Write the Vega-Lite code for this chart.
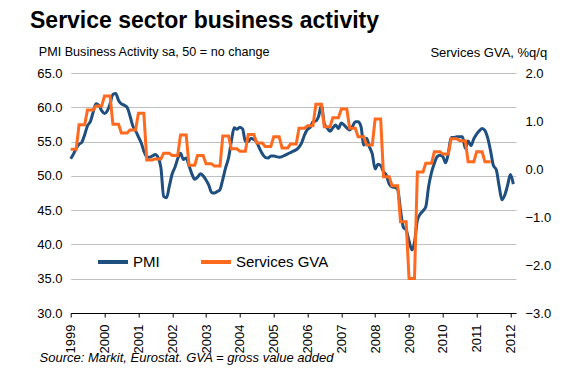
{
  "$schema": "https://vega.github.io/schema/vega-lite/v6.json",
  "width": 445.3,
  "height": 240,
  "autosize": {"type": "none"},
  "padding": {"left": 70.7, "top": 73, "right": 48, "bottom": 61},
  "title": {"text": "Service sector business activity", "anchor": "start", "frame": "group", "font": "Liberation Sans", "fontSize": 23, "fontWeight": "bold", "color": "#000000", "dx": -40.7, "dy": -13, "offset": 0},
  "data": {"values": [
    {"date":"1999-01-01","pmi":52.5,"gva":0.41},{"date":"1999-02-01","pmi":53.2,"gva":0.41},{"date":"1999-03-01","pmi":54.0,"gva":0.41},
    {"date":"1999-04-01","pmi":54.6,"gva":0.92},{"date":"1999-05-01","pmi":54.9,"gva":0.92},{"date":"1999-06-01","pmi":56.0,"gva":0.92},
    {"date":"1999-07-01","pmi":57.3,"gva":1.23},{"date":"1999-08-01","pmi":57.9,"gva":1.23},{"date":"1999-09-01","pmi":59.3,"gva":1.23},
    {"date":"1999-10-01","pmi":60.5,"gva":1.31},{"date":"1999-11-01","pmi":60.3,"gva":1.31},{"date":"1999-12-01","pmi":59.5,"gva":1.31},
    {"date":"2000-01-01","pmi":59.1,"gva":1.52},{"date":"2000-02-01","pmi":59.5,"gva":1.52},{"date":"2000-03-01","pmi":60.5,"gva":1.52},
    {"date":"2000-04-01","pmi":61.9,"gva":0.93},{"date":"2000-05-01","pmi":62.0,"gva":0.93},{"date":"2000-06-01","pmi":61.0,"gva":0.93},
    {"date":"2000-07-01","pmi":60.5,"gva":0.75},{"date":"2000-08-01","pmi":60.3,"gva":0.75},{"date":"2000-09-01","pmi":60.0,"gva":0.75},
    {"date":"2000-10-01","pmi":58.8,"gva":0.81},{"date":"2000-11-01","pmi":57.3,"gva":0.81},{"date":"2000-12-01","pmi":56.6,"gva":0.81},
    {"date":"2001-01-01","pmi":55.7,"gva":1.16},{"date":"2001-02-01","pmi":54.8,"gva":1.16},{"date":"2001-03-01","pmi":53.6,"gva":1.16},
    {"date":"2001-04-01","pmi":52.8,"gva":0.19},{"date":"2001-05-01","pmi":52.7,"gva":0.19},{"date":"2001-06-01","pmi":52.9,"gva":0.19},
    {"date":"2001-07-01","pmi":53.1,"gva":0.21},{"date":"2001-08-01","pmi":52.7,"gva":0.21},{"date":"2001-09-01","pmi":51.2,"gva":0.21},
    {"date":"2001-10-01","pmi":47.0,"gva":0.33},{"date":"2001-11-01","pmi":46.8,"gva":0.33},{"date":"2001-12-01","pmi":48.5,"gva":0.33},
    {"date":"2002-01-01","pmi":50.3,"gva":0.28},{"date":"2002-02-01","pmi":51.3,"gva":0.28},{"date":"2002-03-01","pmi":52.5,"gva":0.28},
    {"date":"2002-04-01","pmi":53.3,"gva":0.71},{"date":"2002-05-01","pmi":52.4,"gva":0.71},{"date":"2002-06-01","pmi":52.6,"gva":0.71},
    {"date":"2002-07-01","pmi":51.5,"gva":0.08},{"date":"2002-08-01","pmi":50.3,"gva":0.08},{"date":"2002-09-01","pmi":49.5,"gva":0.08},
    {"date":"2002-10-01","pmi":49.8,"gva":0.28},{"date":"2002-11-01","pmi":50.3,"gva":0.28},{"date":"2002-12-01","pmi":50.0,"gva":0.28},
    {"date":"2003-01-01","pmi":49.4,"gva":0.11},{"date":"2003-02-01","pmi":48.6,"gva":0.11},{"date":"2003-03-01","pmi":47.6,"gva":0.11},
    {"date":"2003-04-01","pmi":47.5,"gva":0.06},{"date":"2003-05-01","pmi":47.7,"gva":0.06},{"date":"2003-06-01","pmi":48.0,"gva":0.06},
    {"date":"2003-07-01","pmi":49.5,"gva":0.69},{"date":"2003-08-01","pmi":51.2,"gva":0.69},{"date":"2003-09-01","pmi":52.6,"gva":0.69},
    {"date":"2003-10-01","pmi":55.0,"gva":0.42},{"date":"2003-11-01","pmi":57.0,"gva":0.42},{"date":"2003-12-01","pmi":56.8,"gva":0.42},
    {"date":"2004-01-01","pmi":57.1,"gva":0.37},{"date":"2004-02-01","pmi":56.8,"gva":0.37},{"date":"2004-03-01","pmi":55.0,"gva":0.37},
    {"date":"2004-04-01","pmi":55.0,"gva":0.72},{"date":"2004-05-01","pmi":55.5,"gva":0.72},{"date":"2004-06-01","pmi":55.3,"gva":0.72},
    {"date":"2004-07-01","pmi":54.9,"gva":0.54},{"date":"2004-08-01","pmi":54.0,"gva":0.54},{"date":"2004-09-01","pmi":53.2,"gva":0.54},
    {"date":"2004-10-01","pmi":52.7,"gva":0.47},{"date":"2004-11-01","pmi":52.6,"gva":0.47},{"date":"2004-12-01","pmi":52.9,"gva":0.47},
    {"date":"2005-01-01","pmi":52.9,"gva":0.67},{"date":"2005-02-01","pmi":52.8,"gva":0.67},{"date":"2005-03-01","pmi":52.7,"gva":0.67},
    {"date":"2005-04-01","pmi":52.8,"gva":0.44},{"date":"2005-05-01","pmi":53.0,"gva":0.44},{"date":"2005-06-01","pmi":53.2,"gva":0.44},
    {"date":"2005-07-01","pmi":53.4,"gva":0.52},{"date":"2005-08-01","pmi":53.6,"gva":0.52},{"date":"2005-09-01","pmi":53.8,"gva":0.52},
    {"date":"2005-10-01","pmi":54.2,"gva":0.85},{"date":"2005-11-01","pmi":54.9,"gva":0.85},{"date":"2005-12-01","pmi":56.0,"gva":0.85},
    {"date":"2006-01-01","pmi":56.8,"gva":0.90},{"date":"2006-02-01","pmi":57.1,"gva":0.90},{"date":"2006-03-01","pmi":57.9,"gva":0.90},
    {"date":"2006-04-01","pmi":58.0,"gva":1.35},{"date":"2006-05-01","pmi":58.7,"gva":1.35},{"date":"2006-06-01","pmi":60.3,"gva":1.35},
    {"date":"2006-07-01","pmi":57.6,"gva":0.88},{"date":"2006-08-01","pmi":57.0,"gva":0.88},{"date":"2006-09-01","pmi":56.5,"gva":0.88},
    {"date":"2006-10-01","pmi":57.0,"gva":1.07},{"date":"2006-11-01","pmi":57.4,"gva":1.07},{"date":"2006-12-01","pmi":56.9,"gva":1.07},
    {"date":"2007-01-01","pmi":57.7,"gva":1.25},{"date":"2007-02-01","pmi":57.4,"gva":1.25},{"date":"2007-03-01","pmi":57.0,"gva":1.25},
    {"date":"2007-04-01","pmi":56.7,"gva":0.85},{"date":"2007-05-01","pmi":57.2,"gva":0.85},{"date":"2007-06-01","pmi":57.9,"gva":0.85},
    {"date":"2007-07-01","pmi":57.9,"gva":0.67},{"date":"2007-08-01","pmi":57.2,"gva":0.67},{"date":"2007-09-01","pmi":54.5,"gva":0.67},
    {"date":"2007-10-01","pmi":55.5,"gva":0.50},{"date":"2007-11-01","pmi":54.2,"gva":0.50},{"date":"2007-12-01","pmi":53.2,"gva":0.50},
    {"date":"2008-01-01","pmi":51.0,"gva":1.04},{"date":"2008-02-01","pmi":51.7,"gva":1.04},{"date":"2008-03-01","pmi":51.5,"gva":1.04},
    {"date":"2008-04-01","pmi":50.6,"gva":-0.16},{"date":"2008-05-01","pmi":50.1,"gva":-0.16},{"date":"2008-06-01","pmi":48.8,"gva":-0.16},
    {"date":"2008-07-01","pmi":48.4,"gva":-0.35},{"date":"2008-08-01","pmi":48.3,"gva":-0.35},{"date":"2008-09-01","pmi":48.0,"gva":-0.35},
    {"date":"2008-10-01","pmi":45.0,"gva":-1.10},{"date":"2008-11-01","pmi":42.5,"gva":-1.10},{"date":"2008-12-01","pmi":42.1,"gva":-1.10},
    {"date":"2009-01-01","pmi":40.5,"gva":-2.28},{"date":"2009-02-01","pmi":39.2,"gva":-2.28},{"date":"2009-03-01","pmi":40.3,"gva":-2.28},
    {"date":"2009-04-01","pmi":43.5,"gva":-0.06},{"date":"2009-05-01","pmi":44.4,"gva":-0.06},{"date":"2009-06-01","pmi":44.9,"gva":-0.06},
    {"date":"2009-07-01","pmi":45.5,"gva":0.12},{"date":"2009-08-01","pmi":48.5,"gva":0.12},{"date":"2009-09-01","pmi":50.5,"gva":0.12},
    {"date":"2009-10-01","pmi":51.8,"gva":0.36},{"date":"2009-11-01","pmi":52.8,"gva":0.36},{"date":"2009-12-01","pmi":53.0,"gva":0.36},
    {"date":"2010-01-01","pmi":52.8,"gva":0.31},{"date":"2010-02-01","pmi":51.9,"gva":0.31},{"date":"2010-03-01","pmi":53.3,"gva":0.31},
    {"date":"2010-04-01","pmi":55.6,"gva":0.63},{"date":"2010-05-01","pmi":55.6,"gva":0.63},{"date":"2010-06-01","pmi":55.7,"gva":0.63},
    {"date":"2010-07-01","pmi":55.7,"gva":0.59},{"date":"2010-08-01","pmi":55.7,"gva":0.59},{"date":"2010-09-01","pmi":54.0,"gva":0.59},
    {"date":"2010-10-01","pmi":55.1,"gva":0.15},{"date":"2010-11-01","pmi":54.4,"gva":0.15},{"date":"2010-12-01","pmi":55.4,"gva":0.15},
    {"date":"2011-01-01","pmi":56.1,"gva":0.36},{"date":"2011-02-01","pmi":56.6,"gva":0.36},{"date":"2011-03-01","pmi":56.9,"gva":0.36},
    {"date":"2011-04-01","pmi":56.6,"gva":0.15},{"date":"2011-05-01","pmi":55.5,"gva":0.15},{"date":"2011-06-01","pmi":53.6,"gva":0.15},
    {"date":"2011-07-01","pmi":51.5,"gva":null},{"date":"2011-08-01","pmi":50.9,"gva":null},{"date":"2011-09-01","pmi":48.5,"gva":null},
    {"date":"2011-10-01","pmi":46.5,"gva":null},{"date":"2011-11-01","pmi":47.2,"gva":null},{"date":"2011-12-01","pmi":48.6,"gva":null},
    {"date":"2012-01-01","pmi":50.2,"gva":null},{"date":"2012-02-01","pmi":48.8,"gva":null}
  ]},
  "encoding": {
    "x": {
      "field": "date", "type": "temporal",
      "scale": {"type": "utc", "domain": [{"year": 1999, "month": 1, "date": 1, "utc": true}, {"year": 2012, "month": 3, "date": 1, "utc": true}]},
      "axis": {
        "values": [
          {"year": 1999, "month": 1, "date": 1, "utc": true},{"year": 2000, "month": 1, "date": 1, "utc": true},
          {"year": 2001, "month": 1, "date": 1, "utc": true},{"year": 2002, "month": 1, "date": 1, "utc": true},
          {"year": 2003, "month": 1, "date": 1, "utc": true},{"year": 2004, "month": 1, "date": 1, "utc": true},
          {"year": 2005, "month": 1, "date": 1, "utc": true},{"year": 2006, "month": 1, "date": 1, "utc": true},
          {"year": 2007, "month": 1, "date": 1, "utc": true},{"year": 2008, "month": 1, "date": 1, "utc": true},
          {"year": 2009, "month": 1, "date": 1, "utc": true},{"year": 2010, "month": 1, "date": 1, "utc": true},
          {"year": 2011, "month": 1, "date": 1, "utc": true},{"year": 2012, "month": 1, "date": 1, "utc": true}
        ],
        "format": "%Y", "formatType": "utc",
        "labelAngle": -90, "labelFontSize": 13, "labelPadding": 7, "labelFlush": false, "labelOverlap": false,
        "tickSize": 4, "tickColor": "#000000", "domainColor": "#000000", "grid": false,
        "title": "Source: Markit, Eurostat. GVA = gross value added",
        "titleFontStyle": "italic", "titleFontSize": 13, "titleX": -31.7, "titleY": 48,
        "titleAlign": "left", "titleBaseline": "alphabetic", "titleAnchor": "start"
      }
    }
  },
  "layer": [
    {
      "mark": {"type": "line", "strokeWidth": 3, "interpolate": "monotone"},
      "encoding": {
        "y": {"field": "pmi", "type": "quantitative",
          "scale": {"domain": [30, 65], "nice": false, "zero": false},
          "axis": {"orient": "left", "values": [30, 35, 40, 45, 50, 55, 60, 65], "format": ".1f",
            "domain": false, "ticks": false, "grid": true, "gridColor": "#c0c0c0", "gridWidth": 1,
            "labelFontSize": 13, "labelPadding": 8.7,
            "title": "PMI Business Activity sa, 50 = no change", "titleFontSize": 12.6, "titleAngle": 0,
            "titleX": -32.4, "titleY": -17.5, "titleAlign": "left", "titleBaseline": "alphabetic"}},
        "color": {"datum": "PMI", "type": "nominal",
          "scale": {"domain": ["PMI", "Services GVA"], "range": ["#1e4f7e", "#ff6a1f"]},
          "legend": {"orient": "none", "legendX": 25.3, "legendY": 172, "direction": "horizontal", "title": null,
            "symbolType": "stroke", "symbolSize": 900, "symbolStrokeWidth": 4, "labelFontSize": 15,
            "labelOffset": 3, "columnPadding": 33, "padding": 0, "labelColor": "#000000"}}
      }
    },
    {
      "mark": {"type": "line", "strokeWidth": 3},
      "encoding": {
        "y": {"field": "gva", "type": "quantitative",
          "scale": {"domain": [-3, 2], "nice": false, "zero": false},
          "axis": {"orient": "right", "values": [-3, -2, -1, 0, 1, 2], "format": ".1f",
            "domain": false, "ticks": false, "grid": false, "labelFontSize": 13, "labelPadding": 9,
            "title": "Services GVA, %q/q", "titleFontSize": 13, "titleAngle": 0,
            "titleX": 30.7, "titleY": -17, "titleAlign": "right", "titleBaseline": "alphabetic"}},
        "color": {"datum": "Services GVA", "type": "nominal"}
      }
    }
  ],
  "resolve": {"scale": {"y": "independent"}},
  "config": {
    "view": {"stroke": null},
    "font": "Liberation Sans",
    "axis": {"labelFont": "Liberation Sans", "labelColor": "#000000", "titleFont": "Liberation Sans", "titleColor": "#000000", "titleFontWeight": "normal"},
    "legend": {"labelFont": "Liberation Sans"}
  }
}
